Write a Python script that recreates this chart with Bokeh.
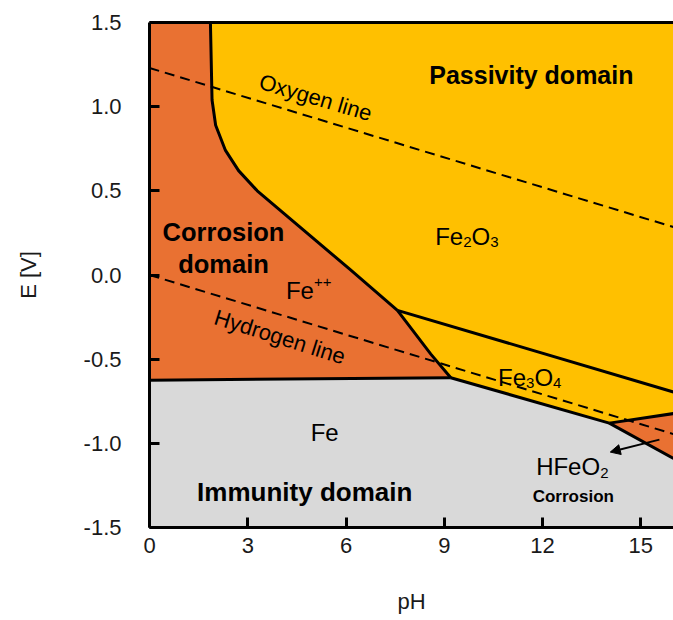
import math
from bokeh.plotting import figure
from bokeh.models import LinearAxis, FixedTicker, PrintfTickFormatter, Arrow, NormalHead
from bokeh.core.properties import value
from bokeh.embed import file_html
from bokeh.resources import INLINE

# ---------------- data ----------------
x_ticks = [0, 3, 6, 9, 12, 15]
y_ticks = [-1.5, -1.0, -0.5, 0.0, 0.5, 1.0, 1.5]
ph_min, ph_max = 0, 16
e_min, e_max = -1.5, 1.5

# Fe / Fe++ boundary
fe_fe2_ph = [0.0, 9.2]
fe_fe2_e = [-0.625, -0.61]
# Fe++ / Fe2O3 boundary (top curve)
fe2_fe2o3_ph = [1.86, 1.91, 2.02, 2.32, 2.72, 3.29, 6.14, 7.57]
fe2_fe2o3_e = [1.5, 1.04, 0.89, 0.74, 0.62, 0.50, 0.03, -0.21]
# Fe++ / Fe3O4 boundary
fe2_fe3o4_ph = [7.57, 8.59, 9.2]
fe2_fe3o4_e = [-0.21, -0.47, -0.61]
# Fe3O4 / Fe2O3 boundary
fe3o4_fe2o3_ph = [7.57, 16.0]
fe3o4_fe2o3_e = [-0.21, -0.695]
# Fe / Fe3O4 boundary
fe_fe3o4_ph = [9.2, 14.04]
fe_fe3o4_e = [-0.61, -0.88]
# Fe3O4 / HFeO2- boundary
fe3o4_hfeo2_ph = [14.04, 16.0]
fe3o4_hfeo2_e = [-0.88, -0.823]
# Fe / HFeO2- boundary
fe_hfeo2_ph = [14.04, 16.0]
fe_hfeo2_e = [-0.88, -1.09]
# water stability lines
oxygen_ph = [0, 16]
oxygen_e = [1.23, 0.285]
hydrogen_ph = [0, 16]
hydrogen_e = [0.0, -0.945]

# domain labels (plain text)
label_text = ["Passivity domain", "Corrosion", "domain", "Fe", "Immunity domain", "Corrosion"]
label_ph = [11.66, 2.26, 2.26, 5.35, 4.74, 12.94]
label_e = [1.187, 0.254, 0.064, -0.933, -1.289, -1.315]
label_bold = [True, True, True, False, True, True]
label_size = ["25px", "25.5px", "25.5px", "24px", "26px", "17px"]

# species labels with sub/superscripts
chem_parts = [
    [("Fe", "n"), ("++", "sup")],
    [("Fe", "n"), ("2", "sub"), ("O", "n"), ("3", "sub")],
    [("Fe", "n"), ("3", "sub"), ("O", "n"), ("4", "sub")],
    [("HFeO", "n"), ("2", "sub")],
]
chem_ph = [4.86, 9.69, 11.61, 12.91]
chem_e = [-0.095, 0.23, -0.606, -1.14]

line_label_text = ["Oxygen line", "Hydrogen line"]
line_label_ph = [5.07, 3.98]
line_label_e = [1.054, -0.368]
line_label_deg = [-16.5, -17.5]

arrow_tail = (15.57, -0.978)
arrow_head = (14.07, -1.052)

# ---------------- colours ----------------
ORANGE = "#E97132"
YELLOW = "#FFC000"
GRAY = "#D9D9D9"
FONT = "Liberation Sans"

p = figure(width=673, height=620, x_range=(ph_min, ph_max), y_range=(e_min, e_max),
           output_backend="svg", toolbar_location=None,
           min_border_left=149, min_border_right=0, min_border_top=22, min_border_bottom=93,
           background_fill_color=YELLOW, border_fill_color="white")
p.outline_line_color = None
p.grid.visible = False

# gray Fe region
gray_x = [ph_min] + fe_fe2_ph + fe_fe3o4_ph[1:] + fe_hfeo2_ph[1:] + [ph_max]
gray_y = [e_min] + fe_fe2_e + fe_fe3o4_e[1:] + fe_hfeo2_e[1:] + [e_min]
p.patch(gray_x, gray_y, fill_color=GRAY, line_color=None)

# orange Fe++ region
or_x = [ph_min, ph_min] + fe2_fe2o3_ph + fe2_fe3o4_ph[1:]
or_y = [fe_fe2_e[0], e_max] + fe2_fe2o3_e + fe2_fe3o4_e[1:]
p.patch(or_x, or_y, fill_color=ORANGE, line_color=None)

# orange HFeO2- region
tri_x = [fe3o4_hfeo2_ph[0], fe3o4_hfeo2_ph[1], fe_hfeo2_ph[1]]
tri_y = [fe3o4_hfeo2_e[0], fe3o4_hfeo2_e[1], fe_hfeo2_e[1]]
p.patch(tri_x, tri_y, fill_color=ORANGE, line_color=None)

# dashed water lines
for xs, ys in [(oxygen_ph, oxygen_e), (hydrogen_ph, hydrogen_e)]:
    p.line(xs, ys, line_color="black", line_width=2, line_dash="10 6")

# boundaries
for xs, ys in [(fe_fe2_ph, fe_fe2_e), (fe2_fe2o3_ph, fe2_fe2o3_e), (fe2_fe3o4_ph, fe2_fe3o4_e),
               (fe3o4_fe2o3_ph, fe3o4_fe2o3_e), (fe_fe3o4_ph, fe_fe3o4_e),
               (fe3o4_hfeo2_ph, fe3o4_hfeo2_e), (fe_hfeo2_ph, fe_hfeo2_e)]:
    p.line(xs, ys, line_color="black", line_width=3, line_join="round")

# plain labels
for t, x, y, b, s in zip(label_text, label_ph, label_e, label_bold, label_size):
    p.text([x], [y], text=[t], text_align="center", text_baseline="alphabetic",
           text_font=value(FONT), text_font_size=value(s),
           text_font_style="bold" if b else "normal", text_color="black")

# species labels built from pieces (Arial advance widths, em)
ADV = {"F": 0.611, "e": 0.556, "O": 0.778, "H": 0.722, "+": 0.584,
       "2": 0.556, "3": 0.556, "4": 0.556}
MAIN_PX, SMALL_PX = 24, 15
SHIFT = {"n": 0, "sub": 6, "sup": -9}
for parts, x, y in zip(chem_parts, chem_ph, chem_e):
    sizes = [MAIN_PX if kind == "n" else SMALL_PX for _, kind in parts]
    widths = [sum(ADV[c] for c in t) * sz for (t, _), sz in zip(parts, sizes)]
    off = -sum(widths) / 2
    for (t, kind), sz, w in zip(parts, sizes, widths):
        p.text([x], [y], text=[t], text_align="left", text_baseline="alphabetic",
               x_offset=off, y_offset=SHIFT[kind],
               text_font=value(FONT), text_font_size=value(f"{sz}px"), text_color="black")
        off += w

for t, x, y, d in zip(line_label_text, line_label_ph, line_label_e, line_label_deg):
    p.text([x], [y], text=[t], angle=math.radians(d), text_align="center", text_baseline="middle",
           text_font=value(FONT), text_font_size=value("22px"), text_color="black")

p.add_layout(Arrow(end=NormalHead(size=10, fill_color="black", line_color="black"),
                   x_start=arrow_tail[0], y_start=arrow_tail[1],
                   x_end=arrow_head[0], y_end=arrow_head[1],
                   line_width=2, line_color="black"))

# axes
for ax in (p.xaxis[0], p.yaxis[0]):
    ax.axis_line_width = 3
    ax.axis_line_color = "black"
    ax.major_tick_in = 10
    ax.major_tick_out = 0
    ax.major_tick_line_width = 3
    ax.major_tick_line_color = "black"
    ax.minor_tick_line_color = None
    ax.major_label_text_font = FONT
    ax.major_label_text_font_size = "22px"
    ax.major_label_text_color = "#1a1a1a"
    ax.axis_label_text_font = FONT
    ax.axis_label_text_font_size = "22px"
    ax.axis_label_text_font_style = "normal"
    ax.axis_label_text_color = "#1a1a1a"

p.xaxis.ticker = FixedTicker(ticks=x_ticks)
p.yaxis.ticker = FixedTicker(ticks=y_ticks)
p.yaxis.formatter = PrintfTickFormatter(format="%.1f")
p.xaxis.axis_label = "pH"
p.yaxis.axis_label = "E [V]"
p.xaxis.major_label_standoff = 10
p.yaxis.major_label_standoff = 28
p.xaxis.axis_label_standoff = 33
p.yaxis.axis_label_standoff = 40

top = LinearAxis(axis_line_width=3, axis_line_color="black", major_tick_line_color=None,
                 minor_tick_line_color=None, major_label_text_font_size="0px")
top.ticker = FixedTicker(ticks=[])
p.add_layout(top, "above")

open("out.html", "w").write(file_html(p, INLINE))
